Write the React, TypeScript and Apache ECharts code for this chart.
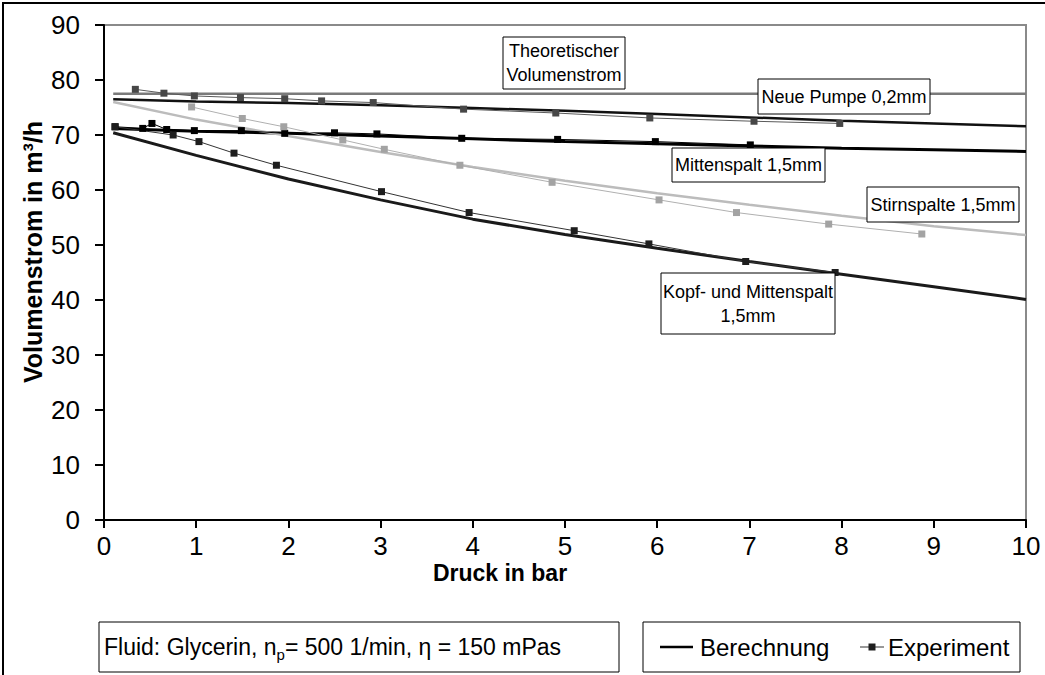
import React, { useEffect, useRef } from "react";
import * as echarts from "echarts";

// ---------- data ----------
const calcPressure = [0.1, 1, 2, 3, 4, 5, 6, 7, 8, 9, 10];
const theoPressure = [0.1, 10];
const theoFlow = [77.5, 77.5];
const neuePumpeCalc = [76.5, 76.1, 75.8, 75.4, 74.9, 74.4, 73.8, 73.2, 72.6, 72.1, 71.6];
const mittenCalc = [71.2, 70.7, 70.3, 69.8, 69.3, 68.8, 68.4, 68.0, 67.6, 67.3, 67.0];
const stirnCalc = [76.0, 72.8, 69.8, 66.9, 64.2, 61.7, 59.4, 57.3, 55.3, 53.4, 51.8];
const kopfCalc = [70.4, 66.3, 62.0, 58.2, 54.7, 51.9, 49.4, 47.0, 44.7, 42.4, 40.1];

const neuePumpeExpP = [0.34, 0.65, 0.98, 1.48, 1.96, 2.36, 2.92, 3.9, 4.9, 5.92, 7.05, 7.98];
const neuePumpeExp = [78.3, 77.6, 77.1, 76.8, 76.6, 76.2, 75.9, 74.7, 74.0, 73.1, 72.5, 72.1];
const mittenExpP = [0.12, 0.42, 0.52, 0.68, 0.98, 1.49, 1.96, 2.5, 2.96, 3.88, 4.92, 5.98, 7.01];
const mittenExp = [71.5, 71.2, 72.1, 71.0, 70.8, 70.8, 70.3, 70.4, 70.2, 69.4, 69.2, 68.8, 68.2];
const stirnExpP = [0.95, 1.5, 1.95, 2.59, 3.04, 3.86, 4.86, 6.02, 6.86, 7.86, 8.87];
const stirnExp = [75.1, 73.0, 71.5, 69.1, 67.4, 64.5, 61.4, 58.2, 55.9, 53.8, 52.0];
const kopfExpP = [0.12, 0.75, 1.03, 1.41, 1.87, 3.01, 3.96, 5.1, 5.91, 6.96, 7.93];
const kopfExp = [71.5, 70.0, 68.8, 66.7, 64.5, 59.7, 55.9, 52.6, 50.2, 47.0, 45.0];

const xTicks = [0, 1, 2, 3, 4, 5, 6, 7, 8, 9, 10];
const yTicks = [0, 10, 20, 30, 40, 50, 60, 70, 80, 90];

const FONT = 'Arial, "Liberation Sans", sans-serif';

const zip = (xs: number[], ys: number[]) => xs.map((x, i) => [x, ys[i]]);

function calcSeries(name: string, xs: number[], ys: number[], color: string, width: number) {
  return {
    name,
    type: "line",
    data: zip(xs, ys),
    showSymbol: false,
    symbol: "none",
    smooth: false,
    lineStyle: { color, width },
    z: 3,
  };
}

function expSeries(name: string, xs: number[], ys: number[], color: string, lineColor: string) {
  return {
    name,
    type: "line",
    data: zip(xs, ys),
    symbol: "rect",
    symbolSize: 7,
    itemStyle: { color },
    lineStyle: { color: lineColor, width: 1 },
    z: 4,
  };
}

function labelBox(x: number, y: number, w: number, h: number, text: string) {
  return {
    type: "group",
    children: [
      {
        type: "rect",
        shape: { x, y, width: w, height: h },
        style: { fill: "#fff", stroke: "#000", lineWidth: 1 },
        z: 10,
      },
      {
        type: "text",
        x: x + w / 2,
        y: y + h / 2,
        style: {
          text,
          font: `18px ${FONT}`,
          fill: "#000",
          align: "center",
          verticalAlign: "middle",
          lineHeight: 24,
        },
        z: 11,
      },
    ],
  };
}

export default function App() {
  const ref = useRef<HTMLDivElement>(null);
  useEffect(() => {
    if (!ref.current) return;
    document.body.style.margin = "0";
    const chart = echarts.init(ref.current, null, { renderer: "svg" });
    chart.setOption({
      animation: false,
      backgroundColor: "#fff",
      grid: {
        left: 104,
        top: 25,
        width: 922,
        height: 495,
        show: true,
        borderColor: "#8a8a8a",
        borderWidth: 2,
        containLabel: false,
      },
      xAxis: {
        type: "value",
        min: 0,
        max: 10,
        interval: 1,
        axisLine: { show: true, onZero: false, lineStyle: { color: "#000", width: 2 } },
        axisTick: { show: true, inside: false, length: 8, lineStyle: { color: "#000", width: 2 } },
        axisLabel: {
          color: "#000",
          fontSize: 26,
          fontFamily: FONT,
          margin: 13,
          formatter: (v: number) => (xTicks.includes(v) ? String(v) : ""),
        },
        splitLine: { show: false },
      },
      yAxis: {
        type: "value",
        min: 0,
        max: 90,
        interval: 10,
        axisLine: { show: true, lineStyle: { color: "#000", width: 2 } },
        axisTick: { show: true, inside: false, length: 9, lineStyle: { color: "#000", width: 2 } },
        axisLabel: {
          color: "#000",
          fontSize: 26,
          fontFamily: FONT,
          margin: 24,
          formatter: (v: number) => (yTicks.includes(v) ? String(v) : ""),
        },
        splitLine: { show: false },
      },
      series: [
        calcSeries("Theoretischer Volumenstrom", theoPressure, theoFlow, "#7a7a7a", 2.5),
        calcSeries("Neue Pumpe 0,2mm Berechnung", calcPressure, neuePumpeCalc, "#111", 2.5),
        calcSeries("Mittenspalt 1,5mm Berechnung", calcPressure, mittenCalc, "#000", 3),
        calcSeries("Stirnspalte 1,5mm Berechnung", calcPressure, stirnCalc, "#bcbcbc", 2.5),
        calcSeries("Kopf- und Mittenspalt 1,5mm Berechnung", calcPressure, kopfCalc, "#1a1a1a", 3),
        expSeries("Neue Pumpe 0,2mm Experiment", neuePumpeExpP, neuePumpeExp, "#474747", "#5a5a5a"),
        expSeries("Mittenspalt 1,5mm Experiment", mittenExpP, mittenExp, "#000", "#000"),
        expSeries("Stirnspalte 1,5mm Experiment", stirnExpP, stirnExp, "#a3a3a3", "#b0b0b0"),
        expSeries("Kopf- und Mittenspalt 1,5mm Experiment", kopfExpP, kopfExp, "#1e1e1e", "#333"),
      ],
      graphic: [
        {
          type: "rect",
          shape: { x: 3, y: 3, width: 1100, height: 720 },
          style: { fill: "none", stroke: "#000", lineWidth: 2 },
          silent: true,
        },
        {
          type: "text",
          x: 33,
          y: 252,
          rotation: Math.PI / 2,
          style: {
            text: "Volumenstrom in m³/h",
            font: `bold 25px ${FONT}`,
            fill: "#000",
            align: "center",
            verticalAlign: "middle",
          },
        },
        {
          type: "text",
          x: 500,
          y: 573,
          style: {
            text: "Druck in bar",
            font: `bold 23px ${FONT}`,
            fill: "#000",
            align: "center",
            verticalAlign: "middle",
          },
        },
        labelBox(503, 37, 122, 52, "Theoretischer\nVolumenstrom"),
        labelBox(758, 79, 172, 35, "Neue Pumpe 0,2mm"),
        labelBox(672, 148, 153, 34, "Mittenspalt 1,5mm"),
        labelBox(867, 187, 152, 35, "Stirnspalte 1,5mm"),
        labelBox(661, 273, 174, 61, "Kopf- und Mittenspalt\n1,5mm"),
        // info box
        {
          type: "rect",
          shape: { x: 99, y: 622, width: 520, height: 50 },
          style: { fill: "#fff", stroke: "#000", lineWidth: 1 },
        },
        {
          type: "text",
          x: 104,
          y: 647,
          style: {
            rich: {
              a: { font: `23px ${FONT}`, fill: "#000" },
              s: { font: `15px ${FONT}`, fill: "#000", padding: [14, 0, 0, 0] },
            },
            text: "{a|Fluid: Glycerin, n}{s|p}{a|= 500 1/min, η = 150 mPas}",
            verticalAlign: "middle",
          },
        },
        // legend box
        {
          type: "rect",
          shape: { x: 643, y: 622, width: 377, height: 50 },
          style: { fill: "#fff", stroke: "#000", lineWidth: 1 },
        },
        {
          type: "line",
          shape: { x1: 660, y1: 647, x2: 693, y2: 647 },
          style: { stroke: "#000", lineWidth: 2.5 },
        },
        {
          type: "text",
          x: 700,
          y: 647,
          style: { text: "Berechnung", font: `24px ${FONT}`, fill: "#000", verticalAlign: "middle" },
        },
        {
          type: "line",
          shape: { x1: 860, y1: 647, x2: 884, y2: 647 },
          style: { stroke: "#333", lineWidth: 1 },
        },
        {
          type: "rect",
          shape: { x: 868.5, y: 643.5, width: 7, height: 7 },
          style: { fill: "#1e1e1e" },
        },
        {
          type: "text",
          x: 888,
          y: 647,
          style: { text: "Experiment", font: `24px ${FONT}`, fill: "#000", verticalAlign: "middle" },
        },
      ],
    });
    return () => chart.dispose();
  }, []);
  return <div ref={ref} style={{ width: 1045, height: 675 }} />;
}
